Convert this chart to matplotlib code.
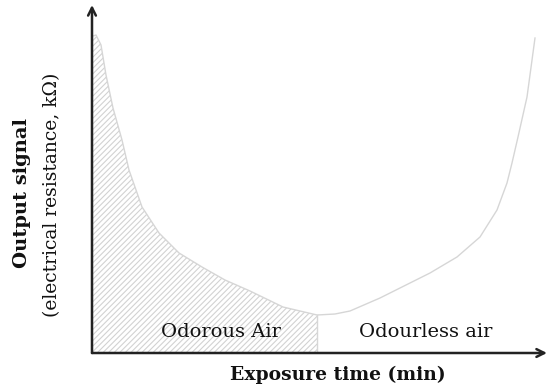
import numpy as np
import matplotlib.pyplot as plt

# Curve (arbitrary units, x = exposure time, y = signal)
time_pts = [1, 4, 9, 14, 21, 30, 37, 50, 67, 87, 110, 133, 158, 191, 225,
            243, 258, 288, 308, 338, 365, 388, 405, 415, 420, 426, 435, 443]
signal_pts = [317, 318, 308, 278, 245, 213, 183, 146, 120, 100, 86, 73, 62, 46, 38,
              39, 42, 55, 65, 80, 96, 116, 143, 170, 190, 216, 256, 315]
switch_time = 225
region_labels = ["Odorous Air", "Odourless air"]
region_centers = [129, 334]

x = np.array(time_pts)
y = np.array(signal_pts)

plt.rcParams['font.family'] = ['DejaVu Serif']
plt.rcParams['hatch.color'] = '#d2d2d2'
plt.rcParams['hatch.linewidth'] = 0.8

fig = plt.figure(figsize=(5.5, 3.92), dpi=100)
ax = fig.add_axes([92 / 550, 39 / 392, 455 / 550, 348 / 392])
ax.set_xlim(0, 455)
ax.set_ylim(0, 348)

# hatched odorous region
mask = x <= switch_time
ax.fill_between(x[mask], 0, y[mask], facecolor='none', edgecolor='#d2d2d2',
                hatch='//////', linewidth=0)
ax.plot(x, y, color='#d6d6d6', lw=1.0, solid_joinstyle='round')
ax.plot([switch_time, switch_time], [0, y[mask][-1]], color='#d6d6d6', lw=1.0)

for lab, cx in zip(region_labels, region_centers):
    ax.text(cx, 21, lab, ha='center', va='center', fontsize=14, color='#111111')

for s in ax.spines.values():
    s.set_visible(False)
ax.set_xticks([])
ax.set_yticks([])

# axis arrows
arrow = dict(arrowstyle='->', color='#222222', lw=1.8, mutation_scale=14,
             shrinkA=0, shrinkB=0)
ax.annotate('', xy=(1.0, 0), xytext=(0, 0), xycoords='axes fraction',
            textcoords='axes fraction', arrowprops=arrow, annotation_clip=False)
ax.annotate('', xy=(0, 1.0), xytext=(0, 0), xycoords='axes fraction',
            textcoords='axes fraction', arrowprops=arrow, annotation_clip=False)

fig.text(338 / 550, 1 - 375 / 392, "Exposure time (min)", ha='center', va='center',
         fontsize=13.5, fontweight='bold', color='#111111')
fig.text(22 / 550, 1 - 193 / 392, "Output signal", ha='center', va='center',
         rotation=90, fontsize=14, fontweight='bold', color='#111111')
fig.text(52 / 550, 1 - 195 / 392, "(electrical resistance, k\u03a9)", ha='center',
         va='center', rotation=90, fontsize=13.5, color='#111111')

fig.savefig('out.png', dpi=100)
